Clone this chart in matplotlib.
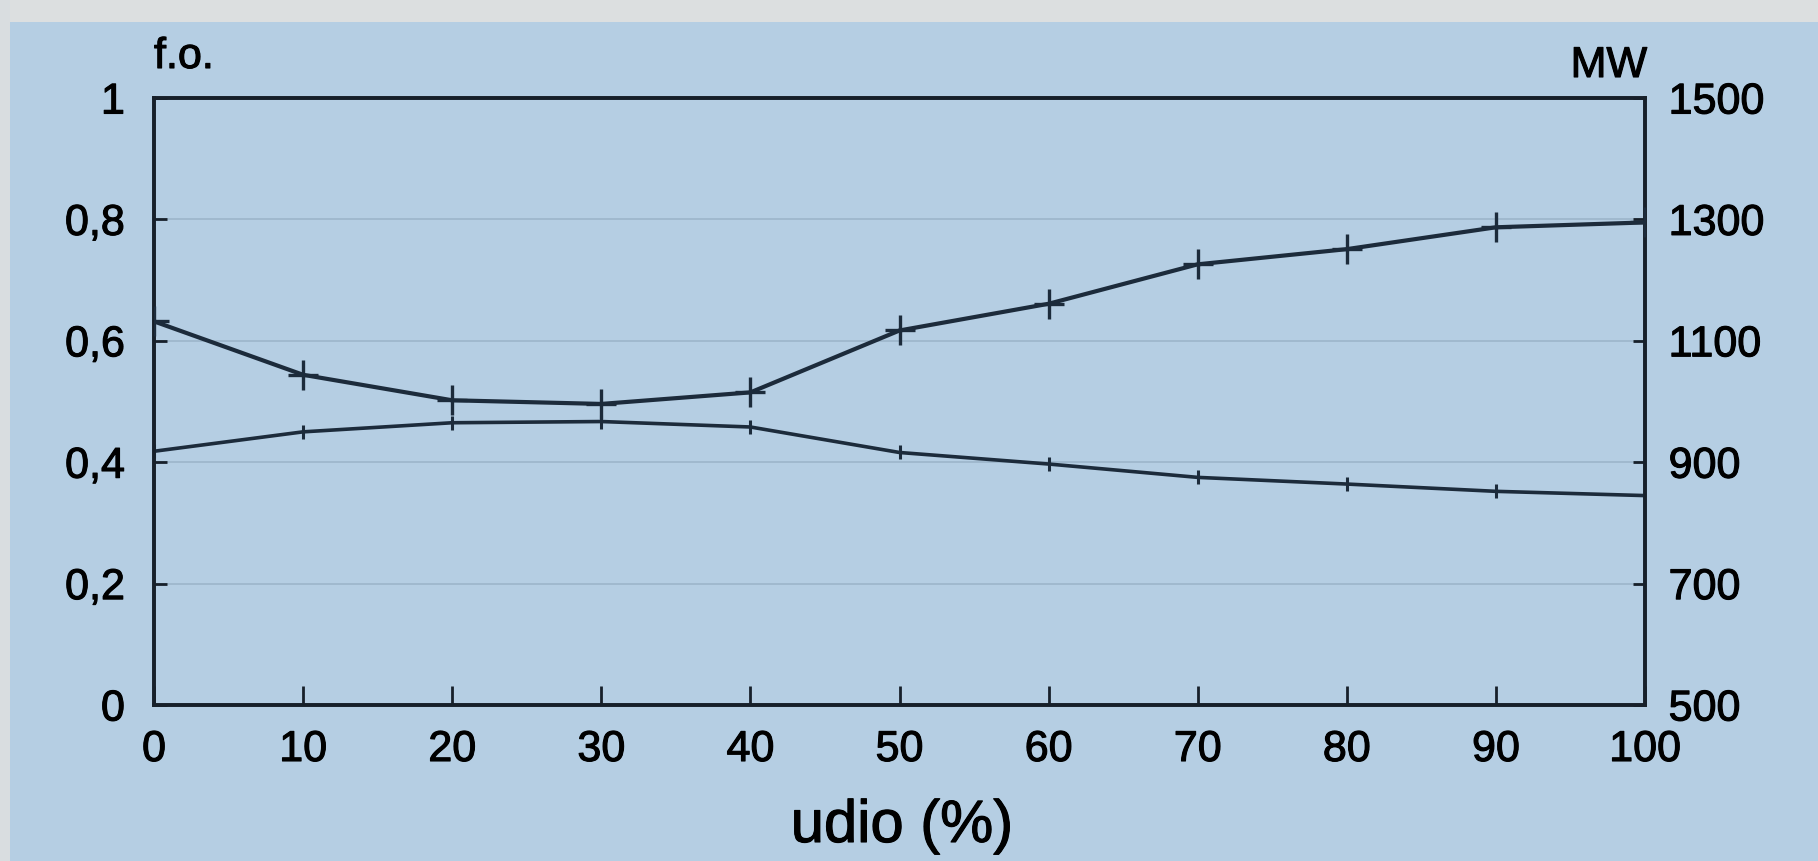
import matplotlib
matplotlib.use("Agg")
import matplotlib.pyplot as plt
import matplotlib.patheffects as pe
from matplotlib.patches import Rectangle

# share (%) on the x axis
udio = [0, 10, 20, 30, 40, 50, 60, 70, 80, 90, 100]
# capacity factor (left axis)
fo = [0.418, 0.450, 0.465, 0.467, 0.458, 0.416, 0.397, 0.375, 0.364, 0.352, 0.345]
# power (right axis)
mw = [1132, 1044, 1002, 996, 1015, 1117, 1161, 1226, 1251, 1287, 1295]

left_ticks = [0, 0.2, 0.4, 0.6, 0.8, 1]
left_labels = ["0", "0,2", "0,4", "0,6", "0,8", "1"]
right_ticks = [500, 700, 900, 1100, 1300, 1500]
x_ticks = [0, 10, 20, 30, 40, 50, 60, 70, 80, 90, 100]

BG = "#b5cee3"
INK = "#17202a"
LINE = "#1c2b3b"
FONT = ["Liberation Sans", "DejaVu Sans"]
plt.rcParams["font.family"] = FONT

# slightly heavier strokes for all lettering
HEAVY = [pe.withStroke(linewidth=0.8, foreground="black")]

fig = plt.figure(figsize=(18.18, 8.61), dpi=100, facecolor=BG)

# pale paper edge along the top and left
fig.patches.append(Rectangle((0, 1 - 22 / 861), 1, 22 / 861, transform=fig.transFigure,
                             facecolor="#dcdfe0", edgecolor="none", zorder=0))
fig.patches.append(Rectangle((0, 0), 10 / 1818, 1, transform=fig.transFigure,
                             facecolor="#d9dde0", edgecolor="none", zorder=0))

ax = fig.add_axes([154 / 1818, 1 - 705 / 861, (1645 - 154) / 1818, (705 - 98) / 861])
ax.set_facecolor(BG)
ax2 = ax.twinx()

ax.set_xlim(0, 100)
ax.set_ylim(0, 1)
ax2.set_ylim(500, 1500)

# faint horizontal guide lines
for t in left_ticks[1:-1]:
    ax.axhline(t, color="#7f98ad", lw=1.2, alpha=0.45, zorder=1)

ax.plot(udio, fo, color=LINE, lw=2.6, marker="|", ms=10, mew=2.2, zorder=3)
ax2.plot(udio, mw, color=LINE, lw=3.0, marker="+", ms=22, mew=2.4, zorder=3)

for a in (ax, ax2):
    for s in a.spines.values():
        s.set_color(INK)
        s.set_linewidth(2.6)

ax.set_xticks(x_ticks)
ax.set_xticklabels([str(v) for v in x_ticks])
ax.set_yticks(left_ticks)
ax.set_yticklabels(left_labels)
ax2.set_yticks(right_ticks)
ax2.set_yticklabels([str(v) for v in right_ticks])

ax.tick_params(axis="x", direction="in", length=14, width=2, color=INK,
               labelsize=31, pad=18, labelcolor="black")
ax.tick_params(axis="y", direction="in", length=9, width=2, color=INK,
               labelsize=31, pad=21, labelcolor="black")
ax2.tick_params(axis="y", direction="in", length=9, width=2, color=INK,
                labelsize=31, pad=17, labelcolor="black")

for lbl in ax.get_xticklabels() + ax.get_yticklabels() + ax2.get_yticklabels():
    lbl.set_path_effects(HEAVY)

fig.text(154 / 1818, 1 - 68 / 861, "f.o.", fontsize=31, ha="left", va="baseline",
         color="black", path_effects=HEAVY)
fig.text(1647 / 1818, 1 - 77 / 861, "MW", fontsize=31, ha="right", va="baseline",
         color="black", path_effects=HEAVY)
fig.text(902 / 1818, 1 - 842 / 861, "udio (%)", fontsize=43, ha="center", va="baseline",
         color="black", path_effects=HEAVY)

fig.savefig("out.png", dpi=100, facecolor=BG)
